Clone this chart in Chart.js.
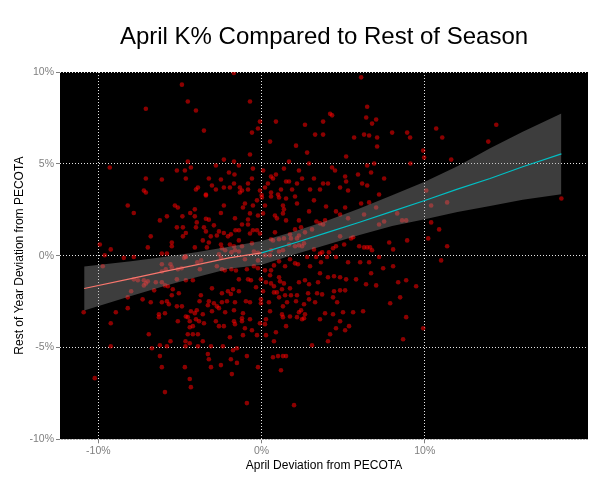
<!DOCTYPE html>
<html>
<head>
<meta charset="utf-8">
<script src="https://cdn.jsdelivr.net/npm/chart.js@4.4.1/dist/chart.umd.min.js"></script>
<style>
  html, body { margin: 0; padding: 0; background: #fff; }
</style>
</head>
<body>
<canvas id="kChart" width="605" height="484"></canvas>
<script>
// April K% deviation vs rest-of-season deviation (both in %)
const points = [
  [-4.88,9.31],[-4.52,8.39],[-4.02,7.90],[-7.09,8.00],[-3.53,6.81],[-4.52,5.12],[-2.31,5.23],[-1.69,5.12],
  [-2.80,4.91],[-9.30,4.80],[-5.19,4.64],[-4.70,4.64],[-4.33,4.80],[-2.00,4.53],[-1.66,4.42],[-7.09,4.20],
  [-6.11,4.15],[-4.64,4.20],[-3.23,4.20],[-2.49,4.15],[-3.04,3.82],[-1.69,3.93],[-2.31,3.71],[-1.94,3.71],
  [-3.90,3.71],[-4.02,3.60],[-2.80,3.60],[-7.21,3.55],[-7.09,3.44],[-3.41,3.33],[-1.70,9.95],
  [6.10,9.71],[-0.71,8.39],[6.47,8.11],[4.20,7.73],[4.32,7.64],[6.41,7.52],[7.02,7.41],[6.77,7.19],
  [-0.10,7.30],[0.88,7.30],[2.66,7.13],[3.77,7.30],[-0.22,6.92],[-0.59,6.70],[3.28,6.59],[3.77,6.59],
  [6.28,6.59],[6.59,6.54],[8.00,6.70],[8.92,6.70],[9.10,6.43],[5.67,6.43],[7.08,6.43],[0.52,6.21],
  [2.11,5.99],[7.08,5.94],[-0.71,5.51],[2.79,5.61],[5.18,5.40],[1.68,5.12],[2.91,5.02],[6.47,4.91],
  [6.90,5.02],[9.12,5.02],[-1.39,4.91],[-0.53,4.74],[0.10,4.64],[1.37,4.74],[2.29,4.64],[4.32,4.80],
  [4.50,4.64],[6.71,4.53],[0.88,4.42],[0.58,4.31],[0.70,4.20],[-0.59,4.20],[5.12,4.31],[5.91,4.42],
  [7.51,4.20],[3.21,4.20],[2.48,4.20],[1.50,4.04],[1.68,4.04],[2.17,3.93],[5.18,4.04],[-0.83,3.93],
  [0.39,3.93],[3.77,3.93],[4.07,3.93],[6.16,3.93],[6.47,3.82],[0.21,3.71],[-1.33,3.71],[-0.83,3.60],
  [-1.20,3.55],[-1.33,3.44],[1.19,3.60],[1.87,3.60],[2.97,3.60],[3.58,3.60],[4.81,3.71],[5.30,3.55],
  [-0.10,3.55],[0.58,3.44],[1.01,3.33],[7.20,3.33],[0.00,3.30],
  [10.70,6.92],[14.38,7.13],[11.07,6.43],[13.89,6.21],[9.90,5.72],[9.96,5.34],[11.62,5.23],[10.09,3.55],
  [-8.20,2.73],[-7.83,2.32],[-5.31,2.73],[-5.13,2.62],[-4.37,2.32],[-4.09,2.52],[-4.09,2.14],[-3.41,3.28],
  [-2.31,2.73],[-2.49,2.32],[-5.80,2.14],[-6.23,1.92],[-4.85,2.14],[-3.97,1.81],[-3.41,2.01],[-3.23,1.96],
  [-1.63,2.04],[-5.19,1.54],[-4.82,1.54],[-4.02,1.54],[-3.53,1.54],[-2.92,1.65],[-2.61,1.32],[-3.41,1.32],
  [-2.31,1.23],[-1.60,1.38],[-4.64,1.23],[-4.82,1.05],[-6.79,1.05],[-3.11,1.05],[-2.74,1.10],[-2.06,1.05],
  [-5.50,0.72],[-5.50,0.51],[-3.60,0.83],[-3.23,0.72],[-3.35,0.45],[-2.49,0.61],[-2.43,0.40],[-1.94,0.61],
  [-1.69,0.51],[-4.09,0.45],[-6.97,0.45],[-9.91,0.61],[-9.24,0.34],[-9.61,0.02],[-8.44,-0.12],[-7.83,-0.07],
  [-6.11,0.12],[-5.80,0.12],[-4.75,-0.12],[-4.64,-0.07],[-3.70,-0.26],[-3.94,-0.36],[-2.61,0.07],[-2.49,-0.12],
  [-2.23,0.29],[-1.85,0.18],[-1.63,0.29],[-9.73,-0.58],[-6.11,-0.47],[-5.58,-0.47],[-5.50,-0.63],[-5.87,-0.74],
  [-6.11,-0.86],[-5.13,-0.74],[-4.90,-0.69],[-3.78,-0.74],[-2.43,-0.74],[-2.25,-0.80],[-1.85,-0.74],[-1.57,-0.81],
  [-2.74,-0.58],[-7.83,-1.29],[-7.58,-1.34],[-7.21,-1.34],[-7.09,-1.51],[-6.97,-1.40],[-7.21,-1.62],[-6.48,-1.45],
  [-6.11,-1.45],[-5.19,-1.29],[-4.64,-1.34],[-4.21,-1.34],[-5.92,-1.62],[-5.74,-1.67],[-7.99,-1.94],[-6.58,-1.89],
  [-5.44,-1.83],[-5.07,-2.05],[-5.50,-2.16],[-3.04,-1.78],[-2.43,-2.05],[-2.06,-1.94],[-1.75,-1.83],[-1.88,-2.09],
  [-3.72,-2.16],[-8.20,-2.27],[-7.29,-2.38],[-6.79,-2.54],[-6.11,-2.54],[-5.80,-2.48],[-5.68,-2.65],[-5.19,-2.76],
  [-4.88,-2.76],[-3.80,-2.48],[-3.23,-2.48],[-2.92,-2.59],[-3.29,-2.70],[-2.74,-2.76],[-2.43,-2.54],[-2.12,-2.48],
  [-1.63,-2.54],[-8.20,-2.86],[-10.90,-3.08],[-8.93,-3.08],[-6.29,-3.19],[-5.92,-3.14],[-4.64,-3.31],[-4.33,-3.03],
  [-4.09,-3.14],[-3.97,-2.97],[-3.60,-3.19],[-3.04,-3.03],[-2.61,-2.86],[-2.23,-3.08],[-1.69,-2.97],[-4.52,-3.35],
  [-6.29,-3.35],[-1.88,1.16],[-4.67,-0.04],
  [-1.02,2.84],[-0.28,3.01],[0.02,3.17],[0.58,3.22],[1.07,3.17],[1.50,3.11],[2.05,3.22],[2.17,2.84],
  [3.21,3.01],[-1.14,2.62],[-0.53,2.73],[0.21,2.73],[1.31,2.73],[1.37,2.52],[1.31,2.30],[0.09,2.30],
  [-0.71,2.30],[-0.22,2.19],[-0.83,1.97],[-1.20,1.70],[-0.83,1.70],[0.82,2.19],[0.94,2.03],[1.50,1.92],
  [2.29,1.92],[2.91,2.41],[3.95,2.68],[4.56,2.41],[5.12,2.62],[4.81,2.24],[5.30,2.03],[6.10,2.84],
  [6.59,2.90],[6.28,2.24],[7.02,2.62],[8.31,2.30],[7.51,1.86],[7.20,1.70],[8.61,1.92],[8.86,1.92],
  [3.36,1.86],[3.58,1.76],[3.89,1.92],[3.77,1.70],[3.09,1.43],[2.66,1.27],[2.42,1.54],[2.05,1.43],
  [1.74,1.16],[2.29,1.10],[2.17,0.94],[1.80,0.94],[1.37,0.94],[1.07,0.89],[0.70,0.83],[0.58,0.89],
  [0.82,1.27],[-0.10,1.21],[-0.28,1.38],[-0.53,1.38],[-0.71,1.21],[-1.39,1.38],[-1.39,0.83],[-1.20,0.51],
  [-0.59,0.67],[-0.47,0.23],[-0.22,0.16],[-0.22,-0.26],[-0.47,-0.58],[-0.22,-0.69],[0.21,0.02],[0.52,0.02],
  [0.58,0.29],[1.07,0.23],[1.31,0.29],[1.68,0.61],[2.05,0.51],[2.29,0.56],[2.60,0.67],[2.48,0.51],
  [3.21,0.34],[3.58,0.12],[3.71,0.18],[3.34,-0.07],[4.01,-0.07],[4.56,-0.07],[4.13,0.18],[4.38,0.40],
  [4.56,0.51],[5.06,0.61],[4.81,1.05],[5.48,0.94],[5.61,1.00],[5.98,0.51],[6.28,0.45],[6.47,0.45],
  [6.65,0.45],[6.77,0.29],[7.82,0.72],[7.20,-0.07],[8.06,0.34],[8.92,0.83],[8.06,-0.58],[5.30,-0.36],
  [6.04,-0.36],[6.71,-0.96],[7.45,-0.69],[8.37,-1.45],[8.86,-1.34],[8.49,-2.27],[8.86,-3.35],[7.02,-1.62],
  [6.40,-1.56],[5.79,-1.29],[5.18,-1.29],[4.81,-1.18],[4.44,-1.12],[4.07,-1.18],[3.58,-0.96],[2.97,-0.58],
  [2.79,-0.07],[3.64,-0.36],[2.23,-0.47],[2.05,-0.42],[1.74,-0.20],[1.44,-0.58],[1.07,-0.31],[0.76,-0.53],
  [0.58,-0.80],[0.21,-0.80],[0.52,-1.07],[1.07,-1.18],[1.13,-1.40],[1.37,-1.51],[1.25,-1.83],[0.76,-1.67],
  [0.58,-1.51],[0.27,-1.45],[-0.04,-1.29],[-0.65,-1.34],[-0.83,-1.29],[-1.39,-1.29],[1.74,-1.78],[1.80,-2.16],
  [1.44,-2.16],[2.17,-2.16],[2.29,-1.45],[2.66,-1.34],[2.91,-1.56],[3.46,-1.45],[3.40,-2.05],[3.71,-2.11],
  [4.44,-1.94],[4.81,-1.89],[5.12,-1.89],[4.38,-2.27],[2.91,-2.38],[3.28,-2.54],[2.60,-2.65],[2.11,-2.48],
  [1.56,-2.54],[1.07,-2.27],[0.76,-2.00],[0.45,-2.54],[-0.04,-2.38],[-0.04,-2.59],[-0.71,-2.54],[-0.96,-2.48],
  [-1.39,-1.94],[-1.14,-3.14],[0.52,-3.03],[1.31,-2.76],[1.25,-3.20],[1.74,-3.31],[2.29,-3.08],[2.42,-2.97],
  [2.66,-3.19],[3.89,-3.14],[4.38,-3.19],[4.99,-3.08],[5.61,-3.08],[6.22,-3.03],[4.63,-2.54],[7.88,-2.59],
  [6.59,-0.36],[-0.34,-1.72],[0.09,-1.94],[0.94,-2.00],[2.85,-2.05],[-1.39,0.23],[-1.02,-0.20],[-0.90,-0.74],
  [10.39,2.73],[11.37,2.90],[18.37,3.11],[10.39,1.81],[10.88,1.43],[10.21,0.94],[11.37,0.51],[11.00,-0.26],
  [9.47,-1.67],
  [-9.24,-3.68],[-5.13,-3.57],[-4.40,-3.57],[-4.40,-3.90],[-4.21,-3.84],[-4.02,-3.46],[-3.83,-3.57],[-3.53,-3.68],
  [-2.80,-3.57],[-2.61,-3.84],[-2.31,-3.84],[-1.69,-3.57],[-1.63,-3.73],[-6.91,-4.28],[-4.52,-4.28],[-4.21,-4.28],
  [-3.90,-4.28],[-1.94,-4.44],[-5.58,-4.66],[-4.66,-4.66],[-4.40,-4.77],[-3.60,-4.66],[-6.23,-4.88],[-5.80,-4.93],
  [-4.66,-4.93],[-3.90,-4.93],[-3.10,-4.93],[-2.37,-4.93],[-9.24,-4.93],[-6.72,-5.04],[-1.75,-5.15],[-3.29,-5.36],
  [-6.23,-5.47],[-3.23,-5.64],[-1.88,-5.64],[-2.49,-5.96],[-6.11,-6.07],[-4.70,-6.07],[-3.10,-6.07],[-1.82,-6.45],
  [-10.22,-6.67],[-4.40,-6.72],[-4.33,-7.16],[-5.92,-7.43],
  [-1.20,-3.41],[-1.20,-3.57],[-0.71,-3.46],[0.27,-3.46],[-0.10,-3.68],[0.21,-3.73],[1.31,-3.35],[2.17,-3.35],
  [2.48,-3.46],[2.60,-3.41],[3.58,-3.46],[4.81,-3.57],[1.50,-3.84],[-1.02,-3.95],[-0.59,-4.06],[-1.14,-4.33],
  [-0.28,-4.33],[0.27,-4.33],[0.88,-4.17],[0.76,-4.66],[4.20,-4.28],[4.56,-3.95],[5.12,-4.06],[5.36,-3.84],
  [4.07,-4.66],[3.09,-4.88],[8.67,-4.55],[-1.51,-5.04],[-0.90,-5.47],[0.70,-5.53],[1.01,-5.47],[1.31,-5.47],
  [1.50,-5.47],[-1.51,-5.84],[-0.22,-6.07],[1.19,-6.24],[-0.90,-8.03],[1.99,-8.14],
  [9.90,-3.95]
];

// smoothed fit and its confidence band
const fitX   = [-10.87, -8, -6, -4, -2, 0, 2, 4, 6, 8, 10, 12, 14, 16, 18.37];
const fitY   = [-1.79, -1.25, -0.87, -0.50, -0.12, 0.15, 0.69, 1.25, 1.82, 2.41, 3.00, 3.62, 4.20, 4.84, 5.54];
const bandHi = [-0.59, -0.30, -0.07, 0.18, 0.48, 0.80, 1.32, 1.90, 2.57, 3.29, 4.02, 4.87, 5.85, 6.75, 7.74];
const bandLo = [-2.99, -2.20, -1.67, -1.18, -0.72, -0.50, 0.06, 0.60, 1.12, 1.62, 1.98, 2.37, 2.70, 3.04, 3.34];

const xTicks = [-10, 0, 10];
const yTicks = [-10, -5, 0, 5, 10];

const FONT = "'Liberation Sans', Arial, sans-serif";
const TICK_GREY = '#7f7f7f';

// black panel behind the marks, plus the title centred on the panel
const panel = {
  id: 'panel',
  beforeDraw(chart) {
    const { ctx, chartArea: a } = chart;
    ctx.save();
    ctx.fillStyle = '#ffffff';
    ctx.fillRect(0, 0, chart.width, chart.height);
    ctx.fillStyle = '#000000';
    ctx.fillRect(a.left, a.top, a.right - a.left, a.bottom - a.top);
    ctx.restore();
  },
  afterDraw(chart) {
    const { ctx, chartArea: a } = chart;
    ctx.save();
    ctx.fillStyle = '#000000';
    ctx.font = '24px ' + FONT;
    ctx.textAlign = 'center';
    ctx.textBaseline = 'alphabetic';
    ctx.fillText('April K% Compared to Rest of Season', (a.left + a.right) / 2, 44);
    ctx.restore();
  }
};

const toXY = (xs, ys) => xs.map((x, i) => ({ x: x, y: ys[i] }));

let ktx = document.getElementById('kChart').getContext('2d');

let kChart = new Chart(ktx, {
  type: 'scatter',
  data: {
    datasets: [{
      // fitted line, salmon left of zero, cyan right of zero
      type: 'line',
      data: toXY(fitX, fitY),
      showLine: true,
      borderColor: '#00BFC4',
      borderWidth: 1.2,
      pointRadius: 0,
      fill: false,
      tension: 0,
      order: 0,
      segment: {
        borderColor: c => c.p0.parsed.x < 0 ? '#F8766D' : '#00BFC4',
      },
    }, {
      type: 'line',
      data: toXY(fitX, bandLo),
      showLine: true,
      borderColor: 'rgba(0,0,0,0)',
      borderWidth: 0,
      pointRadius: 0,
      fill: false,
      order: 2,
    }, {
      type: 'line',
      data: toXY(fitX, bandHi),
      showLine: true,
      borderColor: 'rgba(0,0,0,0)',
      borderWidth: 0,
      pointRadius: 0,
      backgroundColor: 'rgba(153,153,153,0.4)',
      fill: 1,
      order: 1,
    }, {
      data: points.map(p => ({ x: p[0], y: p[1] })),
      backgroundColor: 'rgba(255,0,0,0.55)',
      borderWidth: 0,
      pointRadius: 2.3,
      order: 3,
    }]
  },
  options: {
    responsive: false,
    animation: false,
    layout: { padding: { top: 72, right: 17, left: 0, bottom: 0 } },
    plugins: {
      legend: { display: false },
      tooltip: { enabled: false },
      title: { display: false },
    },
    scales: {
      x: {
        type: 'linear',
        min: -12.35,
        max: 20.0,
        afterBuildTicks: s => { s.ticks = xTicks.map(v => ({ value: v })); },
        afterFit: s => { s.height = 44.7; },
        grid: {
          color: '#e6e6e6',
          lineWidth: 1,
          drawTicks: true,
          tickLength: 4,
          tickColor: TICK_GREY,
        },
        border: { display: false, dash: [1, 2] },
        ticks: {
          color: TICK_GREY,
          font: { family: FONT, size: 10.5 },
          padding: 2,
          maxRotation: 0,
          callback: v => v + '%',
        },
        title: {
          display: true,
          text: 'April Deviation from PECOTA',
          color: '#000000',
          font: { family: FONT, size: 12 },
          padding: { top: 0, bottom: 10.8 },
        }
      },
      y: {
        type: 'linear',
        min: -10,
        max: 10,
        afterBuildTicks: s => { s.ticks = yTicks.map(v => ({ value: v })); },
        afterFit: s => { s.width = 60; },
        grid: {
          color: '#e6e6e6',
          lineWidth: 1,
          drawTicks: true,
          tickLength: 4,
          tickColor: TICK_GREY,
        },
        border: { display: false, dash: [1, 2] },
        ticks: {
          color: TICK_GREY,
          font: { family: FONT, size: 10.5 },
          padding: 2,
          callback: v => v + '%',
        },
        title: {
          display: true,
          text: 'Rest of Year Deviation from PECOTA',
          color: '#000000',
          font: { family: FONT, size: 12 },
          padding: { top: 12.8, bottom: 0 },
        }
      }
    }
  },
  plugins: [panel]
});
</script>
</body>
</html>
